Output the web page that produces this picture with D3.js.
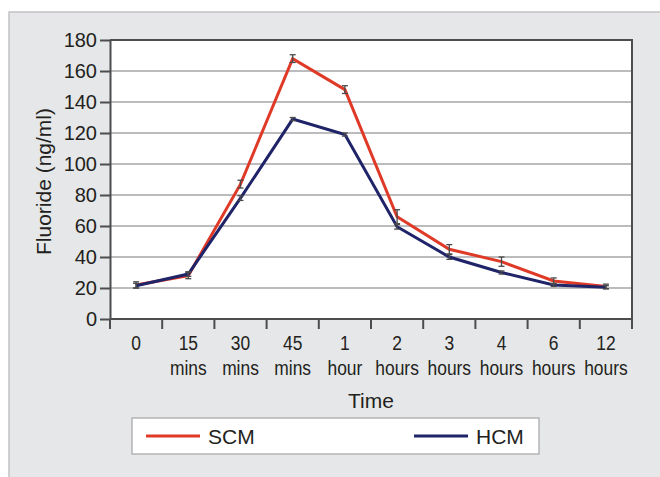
<!DOCTYPE html>
<html>
<head>
<meta charset="utf-8">
<title>Fluoride</title>
<style>
  body { margin: 0; background: #fff; }
  svg { display: block; font-family: "Liberation Sans", Arial, sans-serif; }
  .grid line { stroke: #bcbcbe; stroke-width: 2; }
  .yaxis text { font-size: 20px; fill: #231f20; }
  .yaxis path, .yaxis line { stroke: #4d4d4f; stroke-width: 2; }
</style>
</head>
<body>
<script src="https://d3js.org/d3.v7.min.js"></script>
<script>
// data
var times = ["0", "15 mins", "30 mins", "45 mins", "1 hour", "2 hours", "3 hours", "4 hours", "6 hours", "12 hours"];
var scm = [22, 28, 87, 168, 148, 66, 45, 37, 24.5, 21];
var scmErr = [2, 2, 2.5, 2.5, 2.5, 4.5, 3, 3, 2, 1.5];
var hcm = [21.5, 29, 78, 129, 119, 59.5, 40, 30, 22, 20.5];
var hcmErr = [1.5, 1.5, 1.5, 1, 1, 1.5, 1.5, 1, 1, 1];
var yTicks = [0, 20, 40, 60, 80, 100, 120, 140, 160, 180];

var width = 660, height = 477;
var plot = {left: 110, right: 632, top: 40, bottom: 319};

var svg = d3.select("body").append("svg")
    .attr("width", width)
    .attr("height", height);

// grey panel
svg.append("rect")
    .attr("x", 9).attr("y", 12)
    .attr("width", width).attr("height", height)
    .attr("fill", "#e6e7e8")
    .attr("stroke", "#c2c2c4")
    .attr("stroke-width", 1.5);

var x = d3.scaleBand().domain(times).range([plot.left, plot.right]);
var y = d3.scaleLinear().domain([0, 180]).range([plot.bottom, plot.top]);
var cx = function(d, i) { return x(times[i]) + x.bandwidth() / 2; };

// plot background
svg.append("rect")
    .attr("x", plot.left).attr("y", plot.top)
    .attr("width", plot.right - plot.left)
    .attr("height", plot.bottom - plot.top)
    .attr("fill", "#fff");

// grid lines
svg.append("g").attr("class", "grid")
    .selectAll("line")
    .data(yTicks.filter(function(t) { return t > 0 && t < 180; }))
    .enter().append("line")
    .attr("x1", plot.left).attr("x2", plot.right)
    .attr("y1", function(d) { return y(d); })
    .attr("y2", function(d) { return y(d); });

// top & right border
svg.append("path")
    .attr("d", "M" + plot.left + "," + plot.top + "H" + plot.right + "V" + plot.bottom)
    .attr("fill", "none")
    .attr("stroke", "#4d4d4f")
    .attr("stroke-width", 2);

// y axis
var yAxis = svg.append("g").attr("class", "yaxis")
    .attr("transform", "translate(" + plot.left + ",0)")
    .call(d3.axisLeft(y).tickValues(yTicks).tickSize(10).tickPadding(3).tickSizeOuter(0));
yAxis.selectAll("text").attr("font-family", null);

// x axis: baseline + ticks on category edges
var xa = svg.append("g");
xa.append("line")
    .attr("x1", plot.left).attr("x2", plot.right)
    .attr("y1", plot.bottom).attr("y2", plot.bottom)
    .attr("stroke", "#4d4d4f").attr("stroke-width", 2);
xa.selectAll(".tk")
    .data(times.map(function(t) { return x(t); }).concat([plot.right]))
    .enter().append("line")
    .attr("x1", function(d) { return d; }).attr("x2", function(d) { return d; })
    .attr("y1", plot.bottom).attr("y2", plot.bottom + 10)
    .attr("stroke", "#4d4d4f").attr("stroke-width", 2);

var lab = xa.selectAll(".lab")
    .data(times)
    .enter().append("text")
    .attr("text-anchor", "middle")
    .attr("font-size", 20)
    .attr("fill", "#231f20")
    .attr("transform", function(d) {
      return "translate(" + (x(d) + x.bandwidth() / 2) + ",0) scale(0.87,1)";
    });
lab.each(function(d) {
  var parts = d.split(" ");
  var t = d3.select(this);
  t.append("tspan").attr("x", 0).attr("y", 350).text(parts[0]);
  if (parts[1]) t.append("tspan").attr("x", 0).attr("y", 375).text(parts[1]);
});

// axis titles
svg.append("text")
    .attr("x", (plot.left + plot.right) / 2).attr("y", 408)
    .attr("text-anchor", "middle")
    .attr("font-size", 21).attr("fill", "#231f20")
    .text("Time");

svg.append("text")
    .attr("transform", "translate(51," + ((plot.top + plot.bottom) / 2 + 2) + ") rotate(-90)")
    .attr("text-anchor", "middle")
    .attr("font-size", 21).attr("fill", "#231f20")
    .text("Fluoride (ng/ml)");

// series
var series = [
  {name: "SCM", values: scm, err: scmErr, color: "#df3a27"},
  {name: "HCM", values: hcm, err: hcmErr, color: "#1f2368"}
];

var line = d3.line()
    .x(cx)
    .y(function(d) { return y(d); });

series.forEach(function(s) {
  svg.append("path")
      .datum(s.values)
      .attr("d", line)
      .attr("fill", "none")
      .attr("stroke", s.color)
      .attr("stroke-width", 3)
      .attr("stroke-linejoin", "miter");
});

// error bars
series.forEach(function(s) {
  var g = svg.append("g").attr("stroke", "#4a4a4c").attr("stroke-width", 1.3);
  s.values.forEach(function(v, i) {
    var px = cx(v, i), hi = y(v + s.err[i]), lo = y(v - s.err[i]);
    g.append("line").attr("x1", px).attr("x2", px).attr("y1", hi).attr("y2", lo);
    g.append("line").attr("x1", px - 3).attr("x2", px + 3).attr("y1", hi).attr("y2", hi);
    g.append("line").attr("x1", px - 3).attr("x2", px + 3).attr("y1", lo).attr("y2", lo);
  });
});

// legend
var leg = svg.append("g");
leg.append("rect")
    .attr("x", 132).attr("y", 418)
    .attr("width", 407).attr("height", 36)
    .attr("fill", "#fff")
    .attr("stroke", "#b4b4b6").attr("stroke-width", 1.5);
var legPos = [146, 414];
series.forEach(function(s, i) {
  leg.append("line")
      .attr("x1", legPos[i]).attr("x2", legPos[i] + 54)
      .attr("y1", 436).attr("y2", 436)
      .attr("stroke", s.color).attr("stroke-width", 3);
  leg.append("text")
      .attr("x", legPos[i] + 62).attr("y", 443.5)
      .attr("font-size", 21).attr("fill", "#231f20")
      .text(s.name);
});
</script>
</body>
</html>
